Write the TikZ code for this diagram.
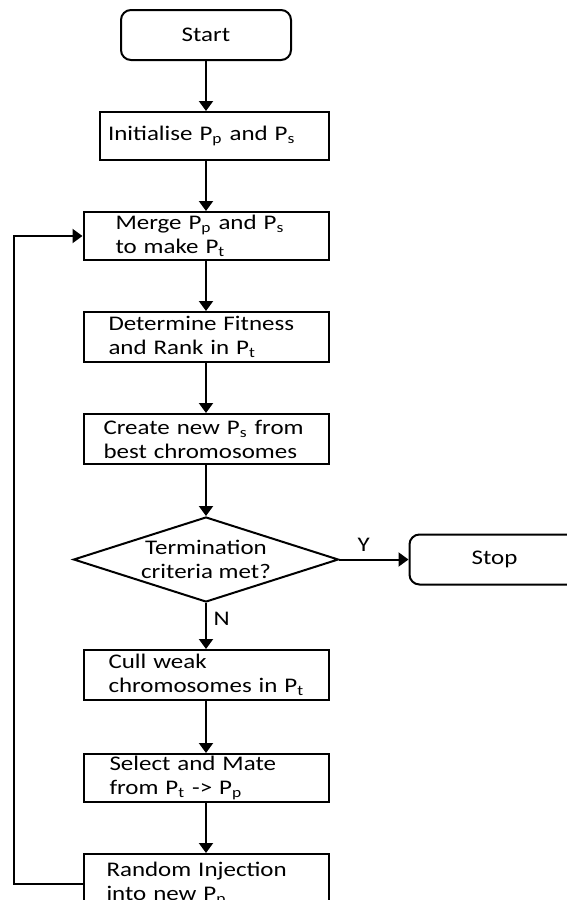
\documentclass[tikz,border=0pt]{standalone}
\usepackage{fontspec}
\setmainfont{Carlito}[FakeStretch=1.2]
\usetikzlibrary{positioning,shapes.geometric,arrows.meta}
\tikzset{
  every node/.style={text=black, font=\fontsize{10.4pt}{12pt}\selectfont},
  procbox/.style={draw=black, rectangle, minimum width=122.5pt, minimum height=25pt,
    inner xsep=2pt, inner ysep=0pt, text width=118.5pt, align=left,
    execute at begin node={\leftskip=#1}},
  procbox/.default=10pt,
  termbox/.style={draw=black, rectangle, rounded corners=5pt, minimum width=85pt, minimum height=25pt},
  decision/.style={draw=black, diamond, aspect=3.1, minimum width=132.5pt, minimum height=42.5pt,
    inner sep=0pt, align=center},
  flow/.style={draw=black, -{Triangle[width=7pt,length=5pt]}}
}
\newcommand{\Pop}[1]{P\textsubscript{#1}}

\begin{document}
\begin{tikzpicture}[x=0.5pt, y=-0.5pt, line width=1pt]
  \useasboundingbox (0,0) rectangle (567,900);
  \clip (0,0) rectangle (567,900);

  % Nodes
  \node (start) [termbox] at (206,35) {Start};
  \node (init) [procbox=2pt, below=25pt of start, xshift=4.25pt, minimum width=114.5pt, minimum height=24pt, text width=110.5pt] {Initialise \Pop{p} and \Pop{s}};
  \node (merge) [procbox=14pt, below=25pt of init, xshift=-4.25pt, minimum height=24pt] {Merge \Pop{p} and \Pop{s}\\to make \Pop{t}};
  \node (fitness) [procbox=10.5pt, below=25pt of merge] {Determine Fitness\\and Rank in \Pop{t}};
  \node (best) [procbox=8pt, below=25pt of fitness] {Create new \Pop{s} from\\best chromosomes};
  \node (check) [decision, below=25.5pt of best] {Termination\\criteria met?};
  \node (stop) [termbox, right=34.5pt of check] {Stop};
  \node (cull) [procbox=10.5pt, below=23pt of check] {Cull weak\\chromosomes in \Pop{t}};
  \node (select) [procbox=11pt, below=26pt of cull, minimum height=24pt] {Select and Mate\\from \Pop{t} -> \Pop{p}};
  \node (random) [procbox=9.5pt, below=25pt of select, minimum height=30pt] {Random Injection\\into new \Pop{p}};
  \coordinate (back) at (14,0);

  % Connectors
  \draw[flow] (start) -- (start |- init.north);
  \draw[flow] (init.south -| merge.north) -- (merge.north);
  \draw[flow] (merge) -- (fitness);
  \draw[flow] (fitness) -- (best);
  \draw[flow] (best) -- (check);
  \draw[flow] (check) -- node[pos=0.35, above] {Y} (stop);
  \draw[flow] (check) -- node[pos=0.35, right] {N} (cull);
  \draw[flow] (cull) -- (select);
  \draw[flow] (select) -- (random);
  \draw[flow] (random.west) -- (random.west -| back) |- (merge.west);
\end{tikzpicture}
\end{document}
